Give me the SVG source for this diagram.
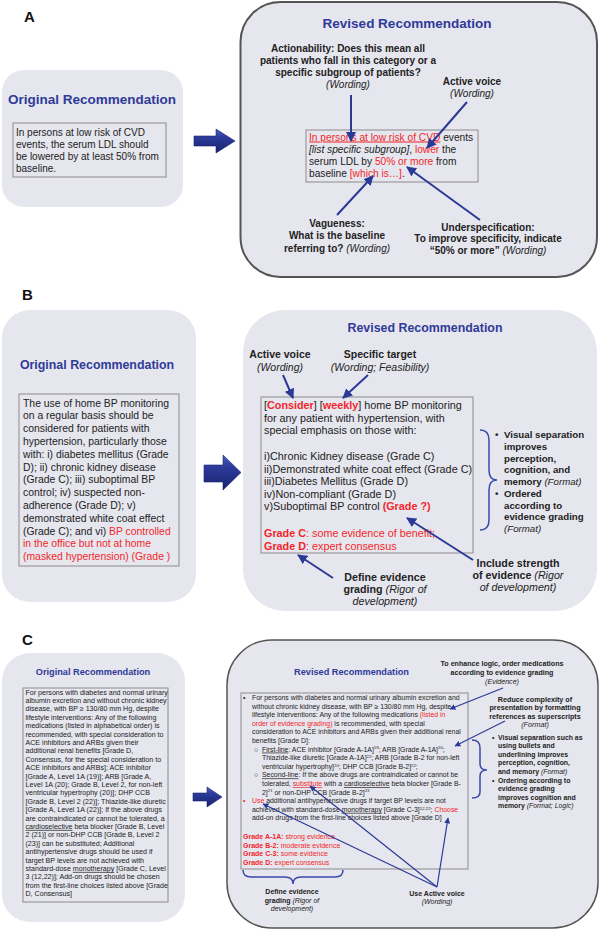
<svg xmlns="http://www.w3.org/2000/svg" width="600" height="931" viewBox="0 0 600 931">
<defs>
<style>
.box{fill:#e6e6ee}
.tb{fill:none;stroke:#8c8c8c;stroke-width:1}
.t{font-family:"Liberation Sans",Arial,sans-serif;fill:#222}
.title{font-weight:bold;fill:#2f3a99}
.r{fill:#f2262a}
.b{font-weight:bold}
.n{font-weight:normal}
.i{font-style:italic}
.ln{stroke:#2b3a96;fill:none;marker-end:url(#ah)}
.br{stroke:#3a4aa8;fill:none;stroke-width:1.5}
.blk{fill:url(#bg);stroke:#1a2270;stroke-width:0.6}
.lbl{font-family:"Liberation Sans",Arial,sans-serif;font-weight:bold;font-size:15px;fill:#111}
.sp{text-decoration:underline wavy #e03030}
</style>
<marker id="ah" viewBox="0 0 10 10" refX="9" refY="5" markerWidth="5" markerHeight="5" orient="auto" markerUnits="strokeWidth">
<path d="M0,0 L10,5 L0,10 z" fill="#2b3a96"/>
</marker>
<linearGradient id="bg" x1="0" y1="0" x2="0" y2="1">
<stop offset="0" stop-color="#4a5cc0"/>
<stop offset="0.35" stop-color="#2c3b9a"/>
<stop offset="1" stop-color="#18226e"/>
</linearGradient>
</defs>

<!-- Panel labels -->
<g id="labels">
<text x="24" y="22" class="lbl">A</text>
<text x="22" y="300" class="lbl">B</text>
<text x="22" y="645" class="lbl">C</text>
</g>

<!-- ===== Panel A ===== -->
<g id="a-original">
<rect x="2" y="70" width="181" height="137" rx="22" class="box"/>
<text x="92" y="104" text-anchor="middle" class="t title" font-size="13.5">Original Recommendation</text>
<rect x="13" y="123" width="153" height="54" class="tb"/>
<text class="t" font-size="10"><tspan x="16" y="135.5">In persons at low risk of CVD</tspan><tspan x="16" y="147.5">events, the serum LDL should</tspan><tspan x="16" y="159.5">be lowered by at least 50% from</tspan><tspan x="16" y="171.5">baseline.</tspan></text>
</g>
<g id="a-arrow"><path class="blk" d="M194,136 L216,136 L216,129 L235,141 L216,153 L216,146 L194,146 Z"/></g>
<g id="a-revised">
<rect x="240.5" y="2" width="356.5" height="275" rx="40" class="box" stroke="#555" stroke-width="2"/>
<text x="407" y="28" text-anchor="middle" class="t title" font-size="13.5">Revised Recommendation</text>
<rect x="306" y="130" width="172" height="52" class="tb"/>
<text class="t" font-size="10.2">
<tspan x="309" y="140.5"><tspan class="r" text-decoration="underline">In persons at low risk of CVD</tspan> events</tspan>
<tspan x="309" y="152.8"><tspan class="i">[list specific subgroup]</tspan>, <tspan class="r">lower</tspan> the</tspan>
<tspan x="309" y="165">serum LDL by <tspan class="r">50% or more</tspan> from</tspan>
<tspan x="309" y="177.3">baseline <tspan class="r">[which is…]</tspan>.</tspan>
</text>
</g>
<g id="a-actionability">
<text class="t b" font-size="10" text-anchor="middle"><tspan x="348" y="52">Actionability: Does this mean all</tspan><tspan x="348" y="64">patients who fall in this category or a</tspan><tspan x="348" y="76">specific subgroup of patients?</tspan><tspan x="348" y="88" class="n i">(Wording)</tspan></text>
</g>
<g id="a-active">
<text class="t b" font-size="10" text-anchor="middle"><tspan x="472" y="85">Active voice</tspan><tspan x="472" y="97" class="n i">(Wording)</tspan></text>
</g>
<g id="a-vagueness">
<text class="t b" font-size="10" text-anchor="middle"><tspan x="337" y="226.5">Vagueness:</tspan><tspan x="337" y="239">What is the baseline</tspan><tspan x="337" y="251.5">referring to? <tspan class="n i">(Wording)</tspan></tspan></text>
</g>
<g id="a-underspec">
<text class="t b" font-size="10" text-anchor="middle"><tspan x="488" y="230.5">Underspecification:</tspan><tspan x="488" y="242">To improve specificity, indicate</tspan><tspan x="488" y="253.5">“50% or more” <tspan class="n i">(Wording)</tspan></tspan></text>
</g>

<!-- ===== Panel B ===== -->
<g id="b-original">
<rect x="2" y="310" width="194" height="292" rx="28" class="box"/>
<text x="97" y="368.5" text-anchor="middle" class="t title" font-size="12.4">Original Recommendation</text>
<rect x="19" y="394" width="160" height="172" class="tb"/>
<text class="t" font-size="10.4">
<tspan x="23" y="406.5">The use of home BP monitoring</tspan>
<tspan x="23" y="419.3">on a regular basis should be</tspan>
<tspan x="23" y="432.1">considered for patients with</tspan>
<tspan x="23" y="444.9">hypertension, particularly those</tspan>
<tspan x="23" y="457.7">with: i) diabetes mellitus (Grade</tspan>
<tspan x="23" y="470.5">D); ii) chronic kidney disease</tspan>
<tspan x="23" y="483.3">(Grade C); iii) suboptimal BP</tspan>
<tspan x="23" y="496.1">control; iv) suspected non-</tspan>
<tspan x="23" y="508.9">adherence (Grade D); v)</tspan>
<tspan x="23" y="521.7">demonstrated white coat effect</tspan>
<tspan x="23" y="534.5">(Grade C); and vi) <tspan class="r">BP controlled</tspan></tspan>
<tspan x="23" y="547.3" class="r">in the office but not at home</tspan>
<tspan x="23" y="560.1" class="r">(masked hypertension) (Grade )</tspan>
</text>
</g>
<g id="b-arrow"><path class="blk" d="M204,465 L223,465 L223,455 L241,472.5 L223,490 L223,482 L204,482 Z"/></g>
<g id="b-revised">
<rect x="243" y="310" width="354" height="301" rx="42" class="box"/>
<text x="425" y="331.5" text-anchor="middle" class="t title" font-size="12.4">Revised Recommendation</text>
<rect x="261" y="397" width="212" height="156" class="tb"/>
<text class="t" font-size="10.8">
<tspan x="264" y="409">[<tspan class="r b">Consider</tspan>] [<tspan class="r b">weekly</tspan>] home BP monitoring</tspan>
<tspan x="264" y="421.5">for  any patient with hypertension, with</tspan>
<tspan x="264" y="434">special emphasis on those with:</tspan>
<tspan x="264" y="460">i)Chronic Kidney disease (Grade C)</tspan>
<tspan x="264" y="472.5">ii)Demonstrated white coat effect (Grade C)</tspan>
<tspan x="264" y="485">iii)Diabetes Mellitus (Grade D)</tspan>
<tspan x="264" y="497.5">iv)Non-compliant (Grade D)</tspan>
<tspan x="264" y="510">v)Suboptimal BP control <tspan class="r b">(Grade ?)</tspan></tspan>
<tspan x="264" y="537" class="r"><tspan class="b">Grade C</tspan>: some evidence of benefit;</tspan>
<tspan x="264" y="549.5" class="r"><tspan class="b">Grade D</tspan>: expert consensus</tspan>
</text>
</g>
<g id="b-active">
<text class="t b" font-size="10.5" text-anchor="middle"><tspan x="280" y="358">Active voice</tspan><tspan x="280" y="371" class="n i">(Wording)</tspan></text>
</g>
<g id="b-target">
<text class="t b" font-size="10.5" text-anchor="middle"><tspan x="380" y="358">Specific target</tspan><tspan x="380" y="371" class="n i">(Wording; Feasibility)</tspan></text>
</g>
<g id="b-format">
<path class="br" d="M480,430 Q489,430 489,440 L489,470 Q489,480 497,480 Q489,480 489,490 L489,520 Q489,530 480,530"/>
<text class="t b" font-size="9.7">
<tspan x="495" y="438">•</tspan><tspan x="504" y="438">Visual separation</tspan>
<tspan x="504" y="449.75">improves</tspan>
<tspan x="504" y="461.5">perception,</tspan>
<tspan x="504" y="473.25">cognition, and</tspan>
<tspan x="504" y="485">memory <tspan class="n i">(Format)</tspan></tspan>
<tspan x="495" y="496.75">•</tspan><tspan x="504" y="496.75">Ordered</tspan>
<tspan x="504" y="508.5">according to</tspan>
<tspan x="504" y="520.25">evidence grading</tspan>
<tspan x="504" y="532" class="n i">(Format)</tspan>
</text>
</g>
<g id="b-define">
<text class="t b" font-size="10.7" text-anchor="middle"><tspan x="385" y="581">Define evidence</tspan><tspan x="385" y="593">grading <tspan class="n i">(Rigor of</tspan></tspan><tspan x="385" y="605" class="n i">development)</tspan></text>
</g>
<g id="b-include">
<text class="t b" font-size="10.7" text-anchor="middle"><tspan x="518" y="567">Include strength</tspan><tspan x="518" y="579">of evidence <tspan class="n i">(Rigor</tspan></tspan><tspan x="518" y="591" class="n i">of development)</tspan></text>
</g>

<!-- ===== Panel C ===== -->
<g id="c-original">
<rect x="2" y="653" width="183" height="269" rx="28" class="box"/>
<text x="93" y="675" text-anchor="middle" class="t title" font-size="9.2">Original Recommendation</text>
<rect x="23" y="688" width="145" height="214" class="tb"/>
<text class="t" font-size="7.1">
<tspan x="25.5" y="694.5">For persons with diabetes and normal urinary</tspan>
<tspan x="25.5" y="702.9">albumin excretion and without chronic kidney</tspan>
<tspan x="25.5" y="711.3">disease, with BP ≥ 130/80 mm Hg, despite</tspan>
<tspan x="25.5" y="719.7">lifestyle interventions:  Any of the following</tspan>
<tspan x="25.5" y="728.1">medications (listed in alphabetical order) is</tspan>
<tspan x="25.5" y="736.5">recommended, with special consideration to</tspan>
<tspan x="25.5" y="744.9">ACE inhibitors and ARBs given their</tspan>
<tspan x="25.5" y="753.3">additional renal benefits [Grade D,</tspan>
<tspan x="25.5" y="761.7">Consensus, for the special consideration to</tspan>
<tspan x="25.5" y="770.1">ACE inhibitors and ARBs]; ACE inhibitor</tspan>
<tspan x="25.5" y="778.5">[Grade A, Level 1A (19)]; ARB [Grade A,</tspan>
<tspan x="25.5" y="786.9">Level 1A (20); Grade B, Level 2, for non-left</tspan>
<tspan x="25.5" y="795.3">ventricular hypertrophy (20)]; DHP CCB</tspan>
<tspan x="25.5" y="803.7">[Grade B, Level 2 (22)]; Thiazide-like diuretic</tspan>
<tspan x="25.5" y="812.1">[Grade A, Level 1A (22)]; If the above drugs</tspan>
<tspan x="25.5" y="820.5">are contraindicated or cannot be tolerated, a</tspan>
<tspan x="25.5" y="828.9"><tspan class="sp">cardioselective</tspan> beta blocker [Grade B, Level</tspan>
<tspan x="25.5" y="837.3">2 (21)] or non-DHP CCB [Grade B, Level 2</tspan>
<tspan x="25.5" y="845.7">(23)] can be substituted;  Additional</tspan>
<tspan x="25.5" y="854.1">antihypertensive drugs should be used if</tspan>
<tspan x="25.5" y="862.5">target BP levels are not achieved with</tspan>
<tspan x="25.5" y="870.9">standard-dose <tspan class="sp">monotherapy</tspan> [Grade C, Level</tspan>
<tspan x="25.5" y="879.3">3 (12,22)]; Add-on drugs should be chosen</tspan>
<tspan x="25.5" y="887.7">from the first-line choices listed above [Grade</tspan>
<tspan x="25.5" y="896.1">D, Consensus]</tspan>
</text>
</g>
<g id="c-arrow"><path class="blk" d="M193,793 L207,793 L207,787 L222,797 L207,807 L207,801 L193,801 Z"/></g>
<g id="c-revised">
<rect x="227" y="640" width="371" height="288" rx="45" class="box" stroke="#555" stroke-width="1.5"/>
<text x="351.5" y="675" text-anchor="middle" class="t title" font-size="9.2">Revised Recommendation</text>
<rect x="241" y="693" width="227" height="176" class="tb"/>
<text class="t" font-size="6.9">
<tspan x="243" y="700">•</tspan><tspan x="252" y="700">For persons with diabetes and normal urinary albumin excretion and</tspan>
<tspan x="252" y="708.6">without chronic kidney disease, with BP ≥ 130/80 mm Hg, despite</tspan>
<tspan x="252" y="717.2">lifestyle interventions:  Any of the following medications <tspan class="r">(listed in</tspan></tspan>
<tspan x="252" y="725.8"><tspan class="r">order of evidence grading)</tspan> is recommended, with special</tspan>
<tspan x="252" y="734.4">consideration to ACE inhibitors and ARBs given their additional renal</tspan>
<tspan x="252" y="743">benefits [Grade D]:</tspan>
<tspan x="254" y="751.6">○</tspan><tspan x="262" y="751.6"><tspan text-decoration="underline">First-line</tspan>: ACE inhibitor [Grade A-1A]<tspan dy="-2.2" font-size="4.3">19</tspan><tspan dy="2.2">; ARB [Grade A-1A]</tspan><tspan dy="-2.2" font-size="4.3">20</tspan><tspan dy="2.2">;</tspan></tspan>
<tspan x="262" y="760.2">Thiazide-like diuretic [Grade A-1A]<tspan dy="-2.2" font-size="4.3">22</tspan><tspan dy="2.2">; ARB [Grade B-2 for non-left</tspan></tspan>
<tspan x="262" y="768.8">ventricular hypertrophy]<tspan dy="-2.2" font-size="4.3">20</tspan><tspan dy="2.2">; DHP CCB [Grade B-2]</tspan><tspan dy="-2.2" font-size="4.3">22</tspan><tspan dy="2.2">;</tspan></tspan>
<tspan x="254" y="777.4">○</tspan><tspan x="262" y="777.4"><tspan text-decoration="underline">Second-line</tspan>: If the above drugs are contraindicated or cannot be</tspan>
<tspan x="262" y="786">tolerated, <tspan class="r sp">substitute</tspan> with a <tspan class="sp">cardioselective</tspan> beta blocker [Grade B-</tspan>
<tspan x="262" y="794.6">2]<tspan dy="-2.2" font-size="4.3">21</tspan><tspan dy="2.2"> or non-DHP CCB [Grade B-2]</tspan><tspan dy="-2.2" font-size="4.3">23</tspan></tspan>
<tspan x="243" y="803.2" class="r">•</tspan><tspan x="252" y="803.2"><tspan class="r">Use</tspan> additional antihypertensive drugs if target BP levels are not</tspan>
<tspan x="252" y="811.8">achieved with standard-dose <tspan class="sp">monotherapy</tspan> [Grade C-3]<tspan dy="-2.2" font-size="4.3">12,22</tspan><tspan dy="2.2">; </tspan><tspan class="r">Choose</tspan></tspan>
<tspan x="252" y="820.4">add-on drugs from the first-line choices listed above [Grade D]</tspan>
</text>
<text class="t r" font-size="7">
<tspan x="243" y="839"><tspan class="b">Grade A-1A:</tspan> strong evidence</tspan>
<tspan x="243" y="847.5"><tspan class="b">Grade B-2:</tspan> moderate evidence</tspan>
<tspan x="243" y="856"><tspan class="b">Grade C-3:</tspan> some evidence</tspan>
<tspan x="243" y="864.5"><tspan class="b">Grade D:</tspan> expert consensus</tspan>
</text>
</g>
<g id="c-enhance">
<text class="t b" font-size="7.1" text-anchor="middle"><tspan x="502" y="666">To enhance logic, order medications</tspan><tspan x="502" y="675">according to evidence grading</tspan><tspan x="502" y="684" class="n i">(Evidence)</tspan></text>
</g>
<g id="c-reduce">
<text class="t b" font-size="7.2" text-anchor="middle"><tspan x="535" y="701.5">Reduce complexity of</tspan><tspan x="535" y="710">presentation by formatting</tspan><tspan x="535" y="718.5">references as superscripts</tspan><tspan x="535" y="727" class="n i">(Format)</tspan></text>
</g>
<g id="c-format">
<path class="br" stroke-width="1.2" d="M472,740 Q480,740 480,748 L480,764 Q480,770 487,770 Q480,770 480,776 L480,792 Q480,798 472,798"/>
<text class="t b" font-size="6.9">
<tspan x="492" y="739.5">•</tspan><tspan x="498" y="739.5">Visual separation such as</tspan>
<tspan x="498" y="748.1">using bullets and</tspan>
<tspan x="498" y="756.7">underlining improves</tspan>
<tspan x="498" y="765.3">perception, cognition,</tspan>
<tspan x="498" y="773.9">and memory <tspan class="n i">(Format)</tspan></tspan>
<tspan x="492" y="782.5">•</tspan><tspan x="498" y="782.5">Ordering according to</tspan>
<tspan x="498" y="791.1">evidence grading</tspan>
<tspan x="498" y="799.7">improves cognition and</tspan>
<tspan x="498" y="808.3">memory <tspan class="n i">(Format; Logic)</tspan></tspan>
</text>
</g>
<g id="c-define">
<path class="br" stroke-width="1.2" d="M243,870 Q243,877 251,877 L285,877 Q293,877 293,884 Q293,877 301,877 L335,877 Q343,877 343,870"/>
<text class="t b" font-size="7" text-anchor="middle"><tspan x="292" y="894">Define evidence</tspan><tspan x="292" y="902.5">grading <tspan class="n i">(Rigor of</tspan></tspan><tspan x="292" y="911" class="n i">development)</tspan></text>
</g>
<g id="c-active">
<text class="t b" font-size="7" text-anchor="middle"><tspan x="437" y="895.5">Use Active voice</tspan><tspan x="437" y="904" class="n i">(Wording)</tspan></text>
</g>

<!-- ===== Connectors ===== -->
<g id="connectors">
<line class="ln" stroke-width="2" x1="351" y1="95" x2="351" y2="141"/>
<line class="ln" stroke-width="2" x1="467" y1="102" x2="427" y2="148"/>
<line class="ln" stroke-width="2" x1="337" y1="215" x2="373" y2="176"/>
<line class="ln" stroke-width="2" x1="480" y1="220" x2="407" y2="167"/>
<line class="ln" stroke-width="2" x1="283" y1="375" x2="293" y2="398"/>
<line class="ln" stroke-width="2" x1="368" y1="375" x2="343" y2="398"/>
<line class="ln" stroke-width="2" x1="333" y1="578" x2="298" y2="555"/>
<line class="ln" stroke-width="2" x1="473" y1="560" x2="407" y2="518"/>
<line class="ln" stroke-width="1.2" x1="503" y1="688" x2="450" y2="709"/>
<line class="ln" stroke-width="1.2" x1="505" y1="721" x2="455" y2="746"/>
<line class="ln" stroke-width="1.2" x1="437" y1="887" x2="263" y2="804"/>
<line class="ln" stroke-width="1.2" x1="437" y1="887" x2="310" y2="786"/>
<line class="ln" stroke-width="1.2" x1="437" y1="887" x2="448" y2="818"/>
</g>
</svg>
